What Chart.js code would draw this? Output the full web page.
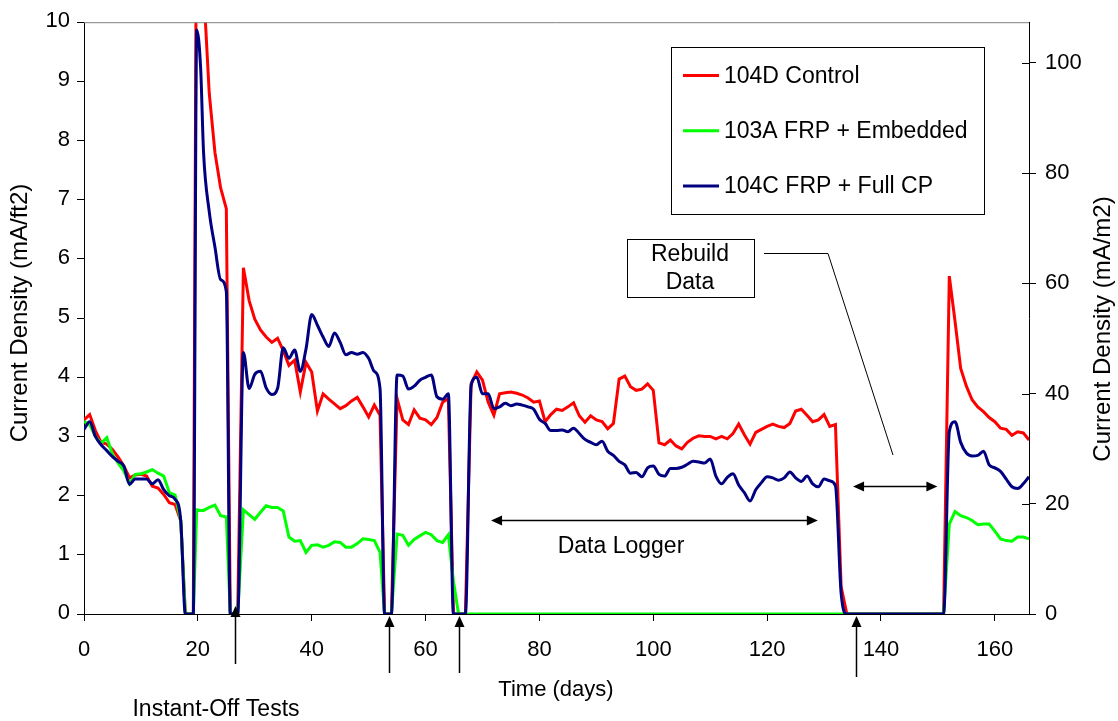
<!DOCTYPE html>
<html>
<head>
<meta charset="utf-8">
<script src="https://cdn.jsdelivr.net/npm/chart.js@4.4.1/dist/chart.umd.min.js"></script>
<style>
  html, body { margin: 0; padding: 0; background: #fff; }
  #wrap { width: 1118px; height: 721px; position: relative; }
</style>
</head>
<body>
<div id="wrap"><canvas id="grafico"></canvas></div>
<script>
// Time (days) shared by the three specimens
const days = [
    0, 1, 2, 3, 4, 5, 6, 7, 8, 9, 10, 11, 12, 13, 14, 15, 16, 17,
    17.8, 19.2,
    19.8, 20.5, 21, 22, 23, 24, 25,
    25.7, 27,
    28, 29, 30, 31, 32, 33, 34, 35, 36, 37, 38, 39, 40, 41, 42, 43, 44, 45, 46, 47, 48, 49, 50, 51, 52,
    52.8, 54,
    55, 56, 57, 58, 59, 60, 61, 62, 63, 64,
    64.9, 65.8, 67,
    68, 69, 70, 71, 72, 73, 74, 75, 76, 77, 78, 79, 80, 81, 82, 83, 84, 85, 86, 87, 88, 89, 90,
    91, 92, 93, 94, 95, 96, 97, 98, 99, 100, 101, 102, 103, 104, 105, 106, 107, 108, 109, 110,
    111, 112, 113, 114, 115, 116, 117, 118, 119, 120, 121, 122, 123, 124, 125, 126, 127, 128, 129, 130, 131, 132,
    133, 134,
    151,
    152, 153, 154, 155, 156, 157, 158, 159, 160, 161, 162, 163, 164, 165, 166
];

// 104D Control (mA/ft2)
const control = [
    3.28, 3.37, 3.1, 2.9, 2.87, 2.78, 2.65, 2.5, 2.3, 2.35, 2.36, 2.33, 2.16, 2.13, 2.02, 1.88, 1.85, 1.57,
    0, 0,
    13.0, 11.8, 10.6, 8.8, 7.8, 7.2, 6.85,
    0, 0,
    5.85, 5.3, 4.98, 4.8, 4.68, 4.59, 4.66, 4.45, 4.2, 4.29, 3.75, 4.25, 4.09, 3.43, 3.72, 3.63, 3.55, 3.47, 3.52, 3.6, 3.66, 3.5, 3.33, 3.53, 3.36,
    0, 0,
    3.64, 3.28, 3.2, 3.45, 3.31, 3.28, 3.2, 3.32, 3.58, 3.64,
    0, 0, 0,
    3.89, 4.09, 3.95, 3.58, 3.36, 3.72, 3.74, 3.75, 3.73, 3.7, 3.65, 3.58, 3.6, 3.25, 3.37, 3.46, 3.44, 3.5, 3.57, 3.35, 3.24, 3.35, 3.28,
    3.25, 3.13, 3.22, 3.97, 4.02, 3.84, 3.78, 3.8, 3.89, 3.78, 2.89, 2.86, 2.94, 2.84, 2.79, 2.9, 2.97, 3.01, 3.0, 3.0,
    2.96, 3.0, 2.96, 3.05, 3.21, 3.03, 2.87, 3.07, 3.12, 3.17, 3.21, 3.17, 3.15, 3.22, 3.43, 3.46, 3.36, 3.25, 3.28, 3.37, 3.17, 3.2,
    0.46, 0,
    0,
    5.71, 4.95, 4.15, 3.85, 3.62, 3.5, 3.42, 3.32, 3.25, 3.14, 3.12, 3.02, 3.08, 3.06, 2.94
];

// 103A FRP + Embedded (mA/ft2)
const embedded = [
    3.25, 3.2, 3.0, 2.88, 2.98, 2.7, 2.55, 2.42, 2.2, 2.36, 2.37, 2.4, 2.44, 2.38, 2.33, 2.05, 2.01, 1.57,
    0, 0,
    1.76, 1.75, 1.75, 1.8, 1.84, 1.66, 1.64,
    0, 0,
    1.76, 1.68, 1.6, 1.72, 1.83, 1.8, 1.8, 1.74, 1.3, 1.23, 1.24, 1.04, 1.16, 1.17, 1.13, 1.16, 1.22, 1.21, 1.13, 1.13, 1.19, 1.27, 1.26, 1.24, 1.04,
    0, 0,
    1.35, 1.33, 1.16, 1.26, 1.32, 1.38, 1.34, 1.24, 1.21, 1.34,
    0.55, 0, 0,
    0, 0, 0, 0, 0, 0, 0, 0, 0, 0, 0, 0, 0, 0, 0, 0, 0, 0, 0, 0, 0, 0, 0,
    0, 0, 0, 0, 0, 0, 0, 0, 0, 0, 0, 0, 0, 0, 0, 0, 0, 0, 0, 0,
    0, 0, 0, 0, 0, 0, 0, 0, 0, 0, 0, 0, 0, 0, 0, 0, 0, 0, 0, 0, 0, 0,
    0, 0,
    0,
    1.52, 1.73, 1.66, 1.63, 1.58, 1.51, 1.52, 1.52, 1.4, 1.27, 1.24, 1.23, 1.3, 1.3, 1.27
];

// 104C FRP + Full CP (mA/ft2)
const fullCP = [
    3.12, 3.25, 3.0, 2.86, 2.76, 2.66, 2.58, 2.5, 2.19, 2.28, 2.28, 2.28, 2.2, 2.27, 2.1, 2.0, 1.94, 1.57,
    0, 0,
    9.87, 9.2, 7.8, 6.8, 6.2, 5.65, 5.45,
    0, 0,
    4.42, 3.81, 4.05, 4.1, 3.82, 3.71, 3.81, 4.5, 4.32, 4.46, 4.1, 4.48, 5.06, 4.88, 4.68, 4.52, 4.75, 4.59, 4.38, 4.42, 4.39, 4.42, 4.32, 4.1, 3.81,
    0, 0,
    4.04, 4.02, 3.8, 3.85, 3.95, 4.0, 4.04, 3.67, 3.63, 3.72,
    0, 0, 0,
    3.86, 4.0, 3.72, 3.72, 3.47, 3.5, 3.56, 3.52, 3.55, 3.53, 3.5, 3.46, 3.29, 3.22, 3.1, 3.1, 3.11, 3.08, 3.14, 3.05, 2.95, 2.9, 2.86,
    2.92, 2.75, 2.68, 2.58, 2.52, 2.38, 2.39, 2.32, 2.47, 2.5, 2.36, 2.33, 2.46, 2.46, 2.48, 2.53, 2.58, 2.57, 2.55, 2.62,
    2.33, 2.2, 2.31, 2.37, 2.18, 2.05, 1.91, 2.1, 2.22, 2.32, 2.3, 2.26, 2.3, 2.4, 2.3, 2.24, 2.33, 2.2, 2.15, 2.28, 2.25, 2.17,
    0.35, 0,
    0,
    3.08, 3.25, 2.9, 2.72, 2.67, 2.68, 2.75, 2.52, 2.47, 2.41, 2.28, 2.15, 2.12, 2.2, 2.32
];

const xTicks = [0, 20, 40, 60, 80, 100, 120, 140, 160];
const FT2_TO_M2 = 10.74;

const FONTE = 'Liberation Sans, Arial, sans-serif';
Chart.defaults.font.family = FONTE;
Chart.defaults.color = '#000';

const series = [
    { label: '104D Control', data: control, color: '#FF0000', order: 3 },
    { label: '103A FRP + Embedded', data: embedded, color: '#00FF00', order: 2 },
    { label: '104C FRP + Full CP', data: fullCP, color: '#000080', order: 1, smooth: true }
];

// Setas de instant-off (dia, ponta, cauda em px)
const setasInstantOff = [
    { dia: 26.5, ponta: 606, cauda: 664 },
    { dia: 53.6, ponta: 616, cauda: 673 },
    { dia: 65.9, ponta: 616, cauda: 673 },
    { dia: 135.6, ponta: 616, cauda: 677 }
];

function seta(ctx, x, y, ang) {
    ctx.save();
    ctx.translate(x, y);
    ctx.rotate(ang);
    ctx.beginPath();
    ctx.moveTo(0, 0);
    ctx.lineTo(-11, -5);
    ctx.lineTo(-11, 5);
    ctx.closePath();
    ctx.fill();
    ctx.restore();
}

const anotacoes = {
    id: 'anotacoes',
    afterDraw(chart) {
        const { ctx, chartArea: a, scales: { x, y, y1 } } = chart;
        ctx.save();
        ctx.fillStyle = '#000';
        ctx.strokeStyle = '#000';

        // moldura superior cinza
        ctx.strokeStyle = '#808080';
        ctx.lineWidth = 1;
        ctx.beginPath();
        ctx.moveTo(a.left, a.top + 0.5);
        ctx.lineTo(a.right, a.top + 0.5);
        ctx.stroke();

        // marcas internas do eixo da direita
        ctx.strokeStyle = '#000';
        y1.ticks.forEach(t => {
            const py = Math.round(y1.getPixelForValue(t.value)) + 0.5;
            ctx.beginPath();
            ctx.moveTo(a.right - 7, py);
            ctx.lineTo(a.right, py);
            ctx.stroke();
        });

        // titulos dos eixos
        ctx.font = '24px ' + FONTE;
        ctx.textAlign = 'center';
        ctx.textBaseline = 'middle';
        ctx.save();
        ctx.translate(20, 313);
        ctx.rotate(-Math.PI / 2);
        ctx.fillText('Current Density (mA/ft2)', 0, 0);
        ctx.restore();
        ctx.save();
        ctx.translate(1103, 329);
        ctx.rotate(-Math.PI / 2);
        ctx.fillText('Current Density (mA/m2)', 0, 0);
        ctx.restore();
        ctx.font = '22px ' + FONTE;
        ctx.textBaseline = 'alphabetic';
        ctx.fillText('Time (days)', 556, 696);

        // setas instant-off
        ctx.lineWidth = 1.5;
        setasInstantOff.forEach(s => {
            const px = Math.round(x.getPixelForValue(s.dia)) + 0.5;
            ctx.beginPath();
            ctx.moveTo(px, s.cauda);
            ctx.lineTo(px, s.ponta + 8);
            ctx.stroke();
            seta(ctx, px, s.ponta, -Math.PI / 2);
        });
        ctx.font = '23px ' + FONTE;
        ctx.fillText('Instant-Off Tests', 216, 716);

        // Data Logger
        const dlY = Math.round(y.getPixelForValue(1.59)) + 0.5;
        const dl0 = x.getPixelForValue(71.5), dl1 = x.getPixelForValue(128.9);
        ctx.beginPath();
        ctx.moveTo(dl0 + 8, dlY);
        ctx.lineTo(dl1 - 8, dlY);
        ctx.stroke();
        seta(ctx, dl0, dlY, Math.PI);
        seta(ctx, dl1, dlY, 0);
        ctx.fillText('Data Logger', 621, 553);

        // Rebuild
        const rbY = Math.round(y.getPixelForValue(2.16)) + 0.5;
        const rb0 = x.getPixelForValue(135.1), rb1 = x.getPixelForValue(149.9);
        ctx.beginPath();
        ctx.moveTo(rb0 + 8, rbY);
        ctx.lineTo(rb1 - 8, rbY);
        ctx.stroke();
        seta(ctx, rb0, rbY, Math.PI);
        seta(ctx, rb1, rbY, 0);

        ctx.lineWidth = 1;
        ctx.fillStyle = '#fff';
        ctx.fillRect(627.5, 239.5, 127, 58);
        ctx.strokeRect(627.5, 239.5, 127, 58);
        ctx.beginPath();
        ctx.moveTo(764, 253.5);
        ctx.lineTo(828, 253.5);
        ctx.lineTo(893, 455);
        ctx.stroke();
        ctx.fillStyle = '#000';
        ctx.fillText('Rebuild', 690, 261);
        ctx.fillText('Data', 690, 289);

        // legenda
        ctx.fillStyle = '#fff';
        ctx.fillRect(671.5, 47.5, 313, 167);
        ctx.strokeRect(671.5, 47.5, 313, 167);
        ctx.textAlign = 'left';
        ctx.textBaseline = 'middle';
        series.forEach((s, i) => {
            const ly = 75.5 + i * 55.3;
            ctx.strokeStyle = s.color;
            ctx.lineWidth = 3;
            ctx.beginPath();
            ctx.moveTo(683, ly);
            ctx.lineTo(719, ly);
            ctx.stroke();
            ctx.fillStyle = '#000';
            ctx.fillText(s.label, 724, ly + 1);
        });
        ctx.restore();
    }
};

new Chart(document.getElementById('grafico'), {
    type: 'line',
    data: {
        datasets: series.map(s => ({
            label: s.label,
            data: days.map((d, i) => ({ x: d, y: s.data[i] })),
            borderColor: s.color,
            backgroundColor: s.color,
            borderWidth: 3,
            pointRadius: 0,
            order: s.order,
            tension: s.smooth ? 0.4 : 0,
            cubicInterpolationMode: s.smooth ? 'monotone' : 'default',
            yAxisID: 'y'
        }))
    },
    options: {
        responsive: true,
        maintainAspectRatio: false,
        animation: false,
        layout: { padding: { top: 17, left: 0, right: 0, bottom: 0 } },
        plugins: {
            legend: { display: false },
            tooltip: { enabled: false }
        },
        scales: {
            x: {
                type: 'linear',
                min: 0,
                max: 166,
                afterBuildTicks: scale => { scale.ticks = xTicks.map(v => ({ value: v })); },
                ticks: { font: { size: 22 }, color: '#000', padding: 16, maxRotation: 0 },
                grid: { drawOnChartArea: false, tickLength: 7, color: '#000' },
                border: { color: '#000', width: 1 },
                afterFit: scale => { scale.height = 107; }
            },
            y: {
                position: 'left',
                min: 0,
                max: 10,
                ticks: { stepSize: 1, font: { size: 22 }, color: '#000', padding: 7, labelOffset: -1 },
                grid: { drawOnChartArea: false, tickLength: 7, color: '#000' },
                border: { color: '#000', width: 1 },
                afterFit: scale => { scale.width = 84; }
            },
            y1: {
                position: 'right',
                min: 0,
                max: 10 * FT2_TO_M2,
                ticks: { stepSize: 20, includeBounds: false, font: { size: 22 }, color: '#000', padding: 9 },
                grid: { drawOnChartArea: false, tickLength: 7, color: '#000' },
                border: { color: '#000', width: 1 },
                afterFit: scale => { scale.width = 89; }
            }
        }
    },
    plugins: [anotacoes]
});
</script>
</body>
</html>
